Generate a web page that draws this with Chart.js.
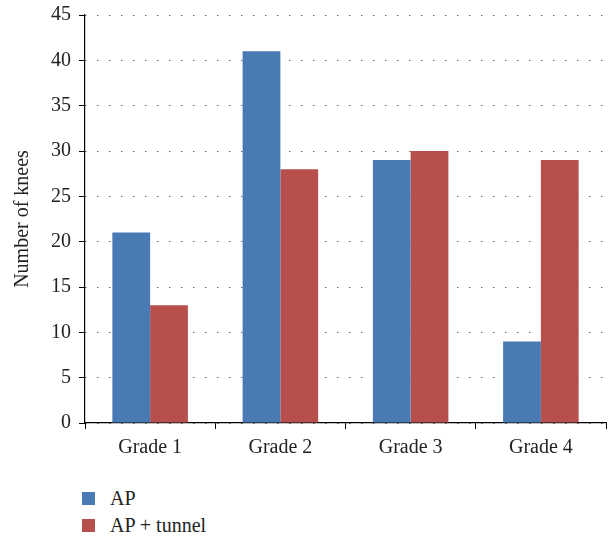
<!DOCTYPE html>
<html>
<head>
<meta charset="utf-8">
<script src="https://cdn.jsdelivr.net/npm/chart.js@4.4.0/dist/chart.umd.min.js"></script>
<style>
  html, body { margin: 0; padding: 0; background: #fff; }
  body { width: 608px; height: 537px; overflow: hidden; font-family: "Liberation Serif", "DejaVu Serif", serif; }
  #wrap { position: absolute; left: 0; top: -5px; width: 608px; height: 472px; }
  #legend { position: absolute; left: 82px; top: 485px; font-size: 20px; color: #222; }
  #legend div { height: 27px; display: flex; align-items: center; }
  #legend span.box { display: inline-block; width: 13px; height: 13px; margin-right: 15px; }
</style>
</head>
<body>
<div id="wrap"><canvas id="myChart"></canvas></div>
<div id="legend"></div>
<script>
// data
let grades = ['Grade 1', 'Grade 2', 'Grade 3', 'Grade 4'];
let apValues = [21, 41, 29, 9];
let tunnelValues = [13, 28, 30, 29];
let seriesNames = ['AP', 'AP + tunnel'];
let seriesColors = ['#4a7ab4', '#b74f4c'];

Chart.defaults.font.family = '"Liberation Serif", "DejaVu Serif", serif';
Chart.defaults.font.size = 20;
Chart.defaults.color = '#222';

let ctx = document.getElementById('myChart').getContext('2d');

let barChart = new Chart(ctx, {
    type: 'bar',
    data: {
        labels: grades,
        datasets: [{
            label: seriesNames[0],
            data: apValues,
            backgroundColor: seriesColors[0],
            barPercentage: 1,
            categoryPercentage: 0.58,
        },{
            label: seriesNames[1],
            data: tunnelValues,
            backgroundColor: seriesColors[1],
            barPercentage: 1,
            categoryPercentage: 0.58,
        }]
    },
    options: {
        responsive: true,
        maintainAspectRatio: false,
        animation: false,
        layout: { padding: { top: 1, right: 2, left: 7 } },
        scales: {
            y: {
                min: 0,
                max: 45,
                ticks: { stepSize: 5, padding: 8 },
                border: { color: '#000', width: 1.2, dash: [1.2, 10.8] },
                grid: {
                    color: '#444',
                    tickBorderDash: [1, 0],
                    tickColor: '#000',
                    tickLength: 6,
                    tickWidth: 1.2,
                    lineWidth: 1,
                },
                title: {
                    display: true,
                    text: 'Number of knees',
                    padding: { bottom: 8 },
                }
            },
            x: {
                border: { color: '#000', width: 1.2 },
                ticks: { padding: 7 },
                grid: {
                    offset: true,
                    drawOnChartArea: false,
                    color: '#000',
                    tickLength: 6,
                },
            }
        },
        plugins: {
            legend: { display: false },
            tooltip: { enabled: false }
        }
    }
});

// legend below the chart
for (let i = 0; i < seriesNames.length; i++) {
    let row = document.createElement('div');
    row.innerHTML = `<span class="box" style="background:${seriesColors[i]}"></span>${seriesNames[i]}`;
    document.getElementById('legend').appendChild(row);
}
</script>
</body>
</html>
